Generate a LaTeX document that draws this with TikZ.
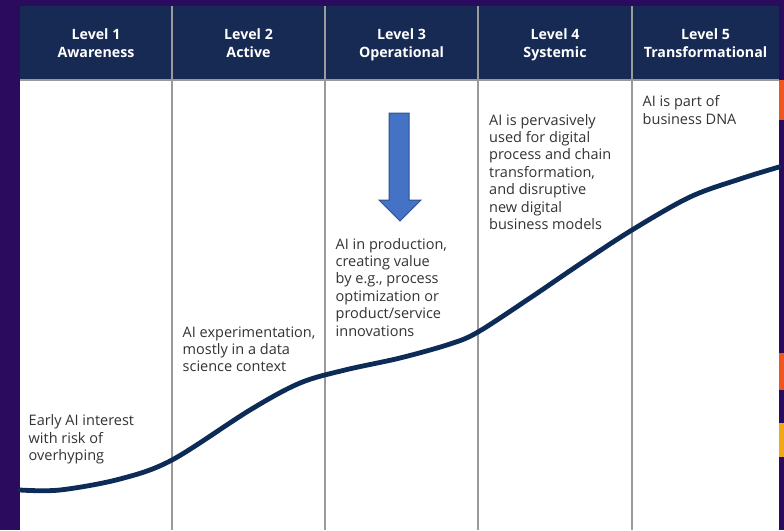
\documentclass[tikz,border=0pt]{standalone}
\usepackage{fontspec}
\setmainfont{Open Sans}
\usepackage{tikz}

\definecolor{bgpurple}{HTML}{2A0B5E}
\definecolor{headnavy}{HTML}{172A54}
\definecolor{curvenavy}{HTML}{0C2B57}
\definecolor{gridgrey}{HTML}{9A9A9A}
\definecolor{bodytext}{HTML}{333333}
\definecolor{arrowblue}{HTML}{4472C4}
\definecolor{arrowedge}{HTML}{2F528F}
\definecolor{gloworange}{HTML}{F0561E}
\definecolor{glowyellow}{HTML}{F2A814}

\tikzset{
  headtxt/.style={anchor=north, inner sep=0pt, align=center, text=white,
    font=\fontsize{14.2}{18}\selectfont\bfseries},
  bodytxt/.style={anchor=north west, inner sep=0pt, align=left, text=bodytext,
    font=\fontsize{14.5}{17.4}\selectfont},
  divider/.style={gridgrey, line width=1.1pt},
  growth/.style={curvenavy, line width=4.8pt, line cap=round},
  downarrow/.style={fill=arrowblue, draw=arrowedge, line width=1pt, line join=miter}
}

\begin{document}
\begin{tikzpicture}[x=1pt,y=-1pt]
% background and panel
\fill[bgpurple] (0,0) rectangle (784,530);
\useasboundingbox (0,0) rectangle (784,530);
\fill[gloworange] (779,80) rectangle (784,120);
\fill[gloworange] (779,353) rectangle (784,390);
\fill[glowyellow] (779,423) rectangle (784,457);
\fill[white] (20,6) rectangle (779,530);
\fill[headnavy] (20,6) rectangle (779,80);

% grid
\draw[divider] (20,80) -- (779,80);
\draw[divider] (172,6) -- (172,530);
\draw[divider] (325,6) -- (325,530);
\draw[divider] (478,6) -- (478,530);
\draw[divider] (632,6) -- (632,530);

% header
\node[headtxt] (h1) at (96,26.4) {\strut Level 1\\Awareness};
\node[headtxt] (h2) at (248.5,26.4) {\strut Level 2\\Active};
\node[headtxt] (h3) at (401.5,26.4) {\strut Level 3\\Operational};
\node[headtxt] (h4) at (555,26.4) {\strut Level 4\\Systemic};
\node[headtxt] (h5) at (705.5,26.4) {\strut Level 5\\Transformational};

% maturity curve
\draw[growth] plot[smooth, tension=0.55] coordinates {(20,490) (60,490) (120,479) (172,460)
  (250,410) (300,383) (345,370) (400,358) (450,344) (478,332) (530,298) (580,264)
  (632,230) (690,197) (740,179) (779,167)};

% arrow
\draw[downarrow] (389,113) -- (409,113) -- (409,200) -- (421,200) -- (400,221)
  -- (379,200) -- (389,200) -- cycle;

% descriptions
\node[bodytxt] (t1) at (28.5,413.5) {\strut Early AI interest\\with risk of\\overhyping};
\node[bodytxt] (t2) at (182.5,324.8) {\strut AI experimentation,\\mostly in a data\\science context};
\node[bodytxt] (t3) at (335.5,236.8) {\strut AI in production,\\creating value\\by e.g., process\\optimization or\\product/service\\innovations};
\node[bodytxt] (t4) at (489,112.8) {\strut AI is pervasively\\used for digital\\process and chain\\transformation,\\and disruptive\\new digital\\business models};
\node[bodytxt] (t5) at (642.5,94.3) {\strut AI is part of\\business DNA};

\end{tikzpicture}
\end{document}
